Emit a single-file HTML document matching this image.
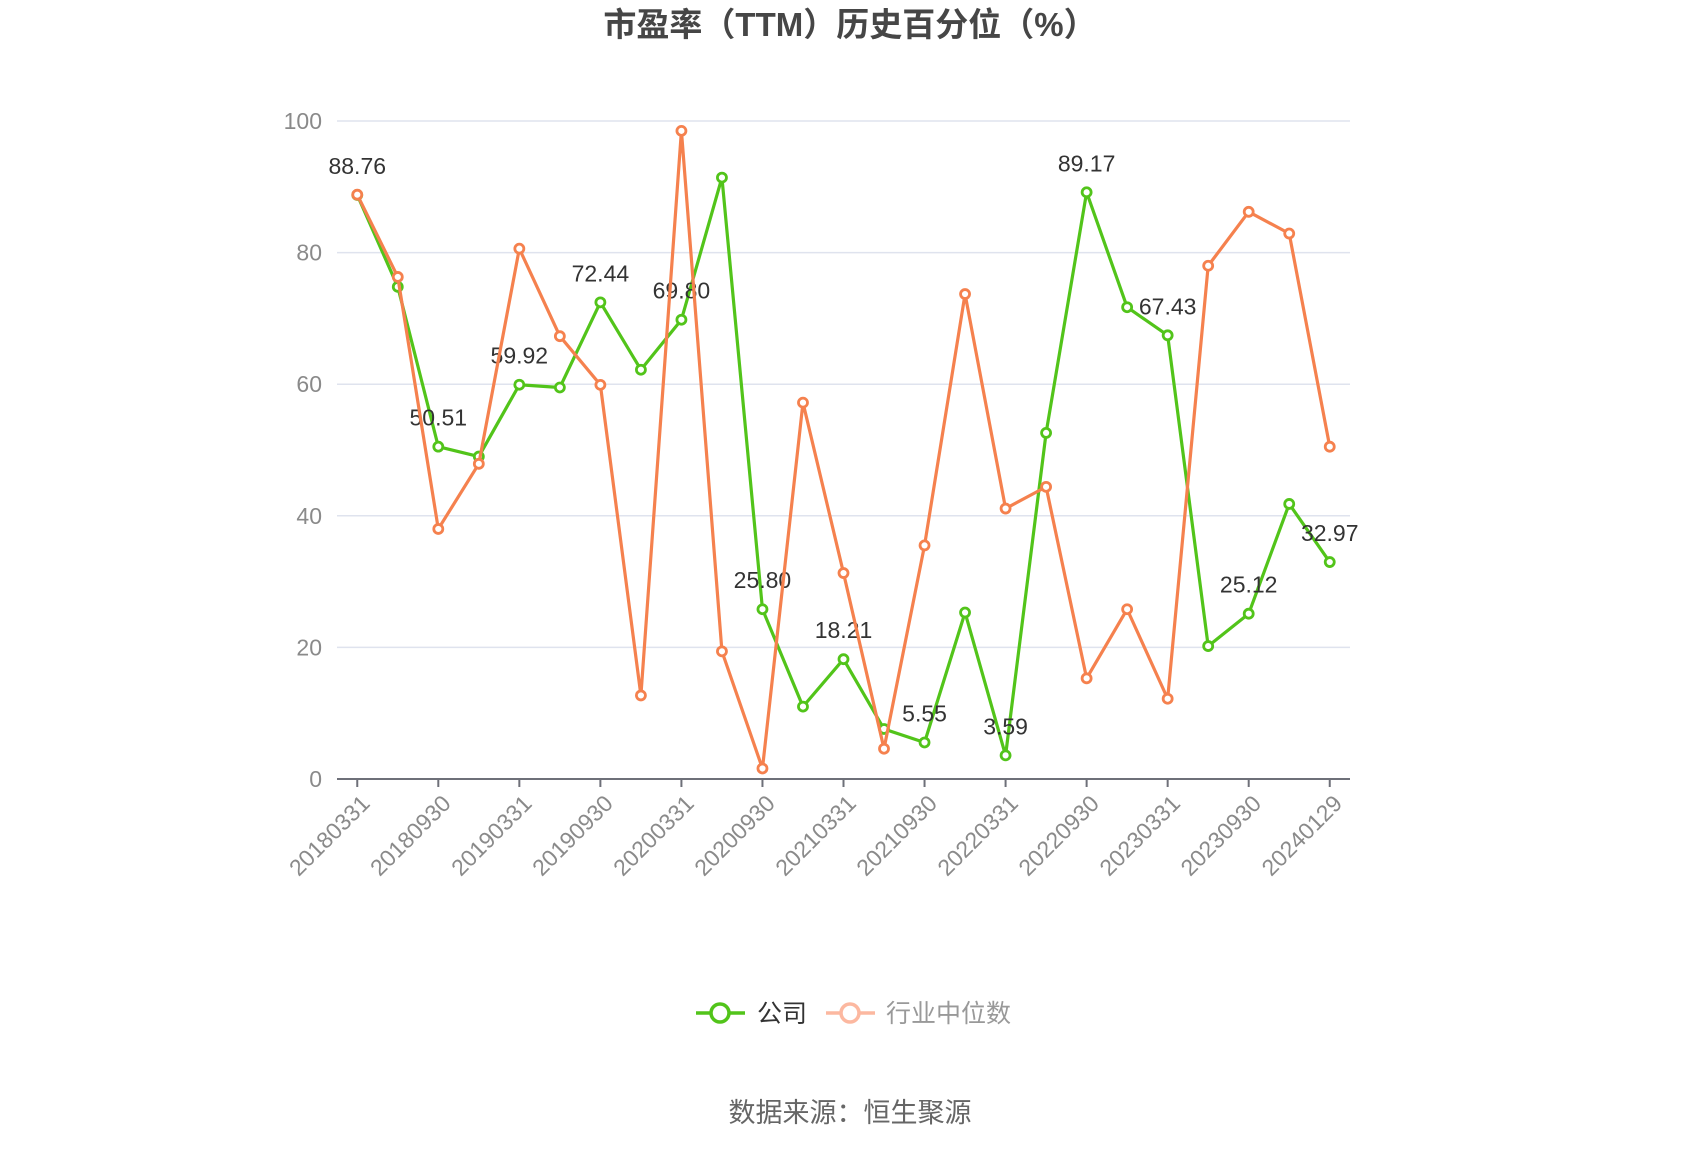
<!DOCTYPE html>
<html><head><meta charset="utf-8"><style>
html,body{margin:0;padding:0;background:#fff;}
svg{display:block;font-family:"Liberation Sans","Noto Sans CJK SC",sans-serif;}
</style></head><body>
<svg id="chart" width="1700" height="1150" viewBox="0 0 1700 1150" xmlns="http://www.w3.org/2000/svg">
<text x="850" y="36" text-anchor="middle" font-size="33" font-weight="bold" fill="#464646">市盈率（TTM）历史百分位（%）</text>
<g id="grid"></g>
<g id="yaxis"></g>
<g id="xaxis"></g>
<g id="series"></g>
<g id="legend">
  <g>
    <line x1="696" y1="1013" x2="745" y2="1013" stroke="#52c41a" stroke-width="3.5"/>
    <circle cx="720" cy="1013" r="9" fill="#fff" stroke="#52c41a" stroke-width="3.5"/>
    <text x="757" y="1022" font-size="25" fill="#333">公司</text>
  </g>
  <g>
    <line x1="826" y1="1013" x2="875" y2="1013" stroke="#fcb8a0" stroke-width="3.5"/>
    <circle cx="850" cy="1013" r="9" fill="#fff" stroke="#fcb8a0" stroke-width="3.5"/>
    <text x="886" y="1022" font-size="25" fill="#999">行业中位数</text>
  </g>
</g>
<text x="850" y="1122" text-anchor="middle" font-size="27" fill="#666">数据来源：恒生聚源</text>
</svg>
<script>
const categories = ["20180331","20180630","20180930","20181231","20190331","20190630","20190930","20191231","20200331","20200630","20200930","20201231","20210331","20210630","20210930","20211231","20220331","20220630","20220930","20221231","20230331","20230630","20230930","20231231","20240129"];
const companyValues = [88.76,74.8,50.51,49.0,59.92,59.5,72.44,62.2,69.80,91.4,25.80,11.0,18.21,7.6,5.55,25.3,3.59,52.6,89.17,71.7,67.43,20.2,25.12,41.8,32.97];
const industryValues = [88.8,76.3,38.0,47.9,80.6,67.3,59.9,12.7,98.5,19.4,1.6,57.2,31.3,4.6,35.5,73.7,41.1,44.4,15.3,25.8,12.2,78.0,86.2,82.9,50.5];
const yTicks = [0,20,40,60,80,100];

const NS = "http://www.w3.org/2000/svg";
const plotLeft = 337, plotRight = 1350, plotTop = 121, plotBottom = 779;
const band = (plotRight - plotLeft) / categories.length;
function xPos(i){ return plotLeft + band * (i + 0.5); }
function yPos(v){ return plotBottom - (v / 100) * (plotBottom - plotTop); }
function mk(tag, attrs, parent){ const e = document.createElementNS(NS, tag); for (const k in attrs) e.setAttribute(k, attrs[k]); parent.appendChild(e); return e; }

const grid = document.getElementById('grid');
const yaxis = document.getElementById('yaxis');
yTicks.forEach(t => {
  if (t > 0) {
    const gl = mk('line', {x1:plotLeft, x2:plotRight, y1:yPos(t), y2:yPos(t), stroke:'#dfe3ee', 'stroke-width':1.5}, grid);
    
    
  }
  const tl = mk('text', {x:322, y:yPos(t)+8, 'text-anchor':'end', 'font-size':23, fill:'#8a8a8a'}, yaxis);
  
  
  tl.textContent = t;
});

const xaxis = document.getElementById('xaxis');
const al = mk('line', {x1:plotLeft, x2:plotRight, y1:plotBottom, y2:plotBottom, stroke:'#6e7079', 'stroke-width':2}, xaxis);


categories.forEach((c, i) => {
  if (i % 2 !== 0) return;
  const x = xPos(i);
  const tk = mk('line', {x1:x, x2:x, y1:plotBottom, y2:plotBottom+8, stroke:'#6e7079', 'stroke-width':2}, xaxis);
  
  
  const lx = x + 2, ly = plotBottom + 14;
  const lb = mk('text', {x:lx, y:ly, 'text-anchor':'end', 'font-size':23, fill:'#8a8a8a', transform:'rotate(-45 ' + lx + ' ' + ly + ')', 'dominant-baseline':'hanging'}, xaxis);
  
  
  lb.textContent = c;
});

const series = document.getElementById('series');
function drawSeries(vals, color, name, labels){
  const g = mk('g', {}, series);
  
  
  const pts = vals.map((v, i) => xPos(i) + ',' + yPos(v)).join(' ');
  const pl = mk('polyline', {points:pts, fill:'none', stroke:color, 'stroke-width':3.2, 'stroke-linejoin':'round'}, g);
  
  
  vals.forEach((v, i) => {
    const c = mk('circle', {cx:xPos(i), cy:yPos(v), r:4.5, fill:'#fff', stroke:color, 'stroke-width':2.8}, g);
    
    
    if (labels && i % 2 === 0) {
      const t = mk('text', {x:xPos(i), y:yPos(v)-21, 'text-anchor':'middle', 'font-size':23, fill:'#333'}, g);
      
      
      t.textContent = v.toFixed(2);
    }
  });
}
drawSeries(companyValues, '#52c41a', 'company', true);
drawSeries(industryValues, '#f5814e', 'industry', false);
</script>
</body></html>
